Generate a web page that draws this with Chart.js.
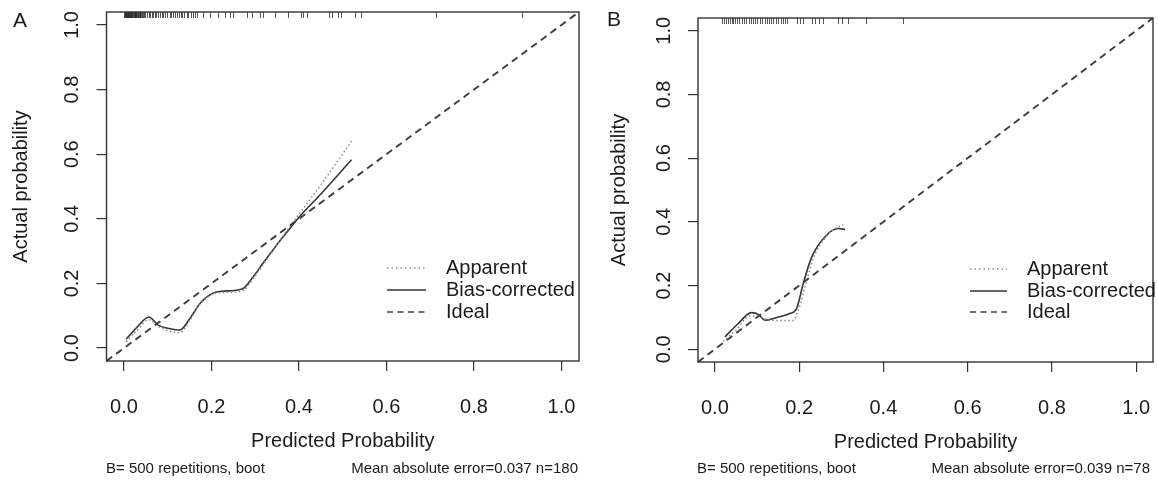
<!DOCTYPE html>
<html>
<head>
<meta charset="utf-8">
<script src="https://cdn.jsdelivr.net/npm/chart.js@4.4.1/dist/chart.umd.min.js"></script>
<style>
  html, body { margin: 0; padding: 0; background: #fff; }
  #wrap { position: relative; width: 1158px; height: 480px; overflow: hidden; }
  canvas { position: absolute; top: 0; }
</style>
</head>
<body>
<div id="wrap">
  <canvas id="cA" width="585" height="480" style="left:0px"></canvas>
  <canvas id="cB" width="573" height="480" style="left:585px"></canvas>
</div>
<script>
// ---------------- DATA ----------------
const tickValues = [0.0, 0.2, 0.4, 0.6, 0.8, 1.0];
const legendLabels = ["Apparent", "Bias-corrected", "Ideal"];
const axisMin = -0.04, axisMax = 1.04;

// Panel A
const appA_x = [0.005, 0.03, 0.057, 0.08, 0.105, 0.128, 0.15, 0.17, 0.2, 0.225, 0.27, 0.295, 0.32, 0.35, 0.38, 0.45, 0.52];
const appA_y = [0.02, 0.055, 0.088, 0.066, 0.052, 0.048, 0.085, 0.13, 0.165, 0.172, 0.176, 0.215, 0.262, 0.32, 0.378, 0.505, 0.64];
const bcA_x  = [0.005, 0.03, 0.057, 0.078, 0.105, 0.128, 0.15, 0.174, 0.203, 0.224, 0.27, 0.295, 0.318, 0.34, 0.37, 0.40, 0.45, 0.52];
const bcA_y  = [0.028, 0.065, 0.096, 0.071, 0.06, 0.056, 0.09, 0.139, 0.17, 0.176, 0.183, 0.22, 0.263, 0.303, 0.355, 0.405, 0.477, 0.583];
const rugA = [0.001, 0.002, 0.003, 0.004, 0.005, 0.006, 0.007, 0.008, 0.009, 0.011, 0.012, 0.013, 0.014, 0.016, 0.017, 0.018, 0.019, 0.021, 0.022, 0.023, 0.024, 0.026, 0.027, 0.028, 0.029, 0.031, 0.033, 0.034, 0.036, 0.037, 0.039, 0.041, 0.043, 0.046, 0.049, 0.053, 0.056, 0.06, 0.063, 0.067, 0.071, 0.074, 0.078, 0.083, 0.087, 0.09, 0.094, 0.099, 0.104, 0.108, 0.112, 0.117, 0.121, 0.126, 0.13, 0.133, 0.138, 0.143, 0.147, 0.152, 0.157, 0.162, 0.167, 0.18, 0.197, 0.215, 0.231, 0.242, 0.249, 0.281, 0.293, 0.311, 0.318, 0.345, 0.375, 0.405, 0.41, 0.418, 0.469, 0.475, 0.489, 0.496, 0.528, 0.542, 0.713, 0.91];
const footA = ["B= 500 repetitions, boot", "Mean absolute error=0.037 n=180"];

// Panel B
const appB_x = [0.02, 0.05, 0.085, 0.12, 0.15, 0.185, 0.2, 0.215, 0.235, 0.265, 0.29, 0.305];
const appB_y = [0.025, 0.06, 0.105, 0.095, 0.09, 0.09, 0.13, 0.2, 0.29, 0.355, 0.383, 0.39];
const bcB_x  = [0.024, 0.055, 0.087, 0.105, 0.119, 0.147, 0.178, 0.194, 0.21, 0.23, 0.265, 0.293, 0.309];
const bcB_y  = [0.039, 0.08, 0.115, 0.108, 0.091, 0.1, 0.112, 0.128, 0.207, 0.29, 0.358, 0.379, 0.376];
const rugB = [0.018, 0.022, 0.027, 0.031, 0.036, 0.04, 0.044, 0.049, 0.053, 0.057, 0.065, 0.07, 0.075, 0.081, 0.086, 0.091, 0.096, 0.101, 0.106, 0.113, 0.118, 0.123, 0.129, 0.134, 0.139, 0.145, 0.15, 0.156, 0.161, 0.166, 0.172, 0.195, 0.202, 0.209, 0.23, 0.238, 0.247, 0.257, 0.292, 0.302, 0.316, 0.359, 0.447];
const footB = ["B= 500 repetitions, boot", "Mean absolute error=0.039 n=78"];

// ---------------- STYLE / LAYOUT ----------------
const FONT = '"Liberation Sans", Arial, Helvetica, sans-serif';
const TXT = '#1b1b1b';
const AX = '#333';

function pts(xs, ys) { return xs.map((v, i) => ({ x: v, y: ys[i] })); }

const panelPlugin = {
  id: 'panel',
  afterDraw(chart) {
    const o = chart.options.plugins.panel;
    const ctx = chart.ctx, ca = chart.chartArea;
    const xs = chart.scales.x, ys = chart.scales.y;
    ctx.save();
    // rug
    ctx.strokeStyle = '#2a2a2a';
    ctx.lineWidth = 0.8;
    o.rug.forEach(v => {
      const px = Math.round(xs.getPixelForValue(v)) + 0.5;
      ctx.beginPath();
      ctx.moveTo(px, ca.top);
      ctx.lineTo(px, ca.top + 6);
      ctx.stroke();
    });
    // box
    ctx.strokeStyle = AX;
    ctx.lineWidth = 1.4;
    ctx.strokeRect(ca.left, ca.top, ca.right - ca.left, ca.bottom - ca.top);
    // tick labels
    ctx.fillStyle = TXT;
    ctx.font = '20px ' + FONT;
    ctx.textAlign = 'center';
    ctx.textBaseline = 'middle';
    xs.ticks.forEach(t => {
      ctx.fillText(t.value.toFixed(1), xs.getPixelForValue(t.value), o.xTickY);
    });
    ys.ticks.forEach(t => {
      ctx.save();
      ctx.translate(o.yTickX, ys.getPixelForValue(t.value));
      ctx.rotate(-Math.PI / 2);
      ctx.fillText(t.value.toFixed(1), 0, 0);
      ctx.restore();
    });
    // axis titles
    ctx.fillText('Predicted Probability', (ca.left + ca.right) / 2, o.xTitleY);
    ctx.save();
    ctx.translate(o.yTitleX, (ca.top + ca.bottom) / 2);
    ctx.rotate(-Math.PI / 2);
    ctx.fillText('Actual probability', 0, 0);
    ctx.restore();
    // panel letter
    ctx.textAlign = 'left';
    ctx.font = '21px ' + FONT;
    ctx.fillText(o.letter, o.letterX, o.letterY);
    // footer
    ctx.font = '15px ' + FONT;
    ctx.fillText(o.foot[0], o.footLeftX, o.footY);
    ctx.textAlign = 'right';
    ctx.fillText(o.foot[1], o.footRightX, o.footY);
    // legend
    ctx.font = '20px ' + FONT;
    ctx.textAlign = 'left';
    const styles = [
      { c: '#8a8a8a', w: 1.4, d: [1.5, 3] },
      { c: '#333', w: 1.6, d: [] },
      { c: '#444', w: 1.5, d: [6, 4.5] }
    ];
    legendLabels.forEach((lab, i) => {
      const yy = o.legRows[i];
      ctx.strokeStyle = styles[i].c;
      ctx.lineWidth = styles[i].w;
      ctx.setLineDash(styles[i].d);
      ctx.beginPath();
      ctx.moveTo(o.legX0, yy);
      ctx.lineTo(o.legX1, yy);
      ctx.stroke();
      ctx.setLineDash([]);
      ctx.fillStyle = TXT;
      ctx.fillText(lab, o.legTextX, yy);
    });
    ctx.restore();
  }
};

function makeChart(id, app, bc, layout) {
  const ideal = [{ x: axisMin, y: axisMin }, { x: axisMax, y: axisMax }];
  const axisCommon = (isX) => ({
    type: 'linear',
    min: axisMin,
    max: axisMax,
    afterBuildTicks(s) { s.ticks = tickValues.map(v => ({ value: v })); },
    afterFit(s) {
      if (isX) s.height = 480 - layout.bottom;
      else s.width = layout.left;
    },
    ticks: { display: false },
    grid: { display: true, drawOnChartArea: false, drawTicks: true, tickLength: 10, color: AX, lineWidth: 1.2 },
    border: { display: false }
  });
  return new Chart(document.getElementById(id), {
    type: 'scatter',
    data: {
      datasets: [
        { label: 'Ideal', data: ideal, showLine: true, pointRadius: 0, borderColor: '#3c3c3c', borderWidth: 1.9, borderDash: [7, 5], clip: false },
        { label: 'Apparent', data: app, showLine: true, pointRadius: 0, borderColor: '#8a8a8a', borderWidth: 1.5, borderDash: [1.5, 2.5], cubicInterpolationMode: 'monotone' },
        { label: 'Bias-corrected', data: bc, showLine: true, pointRadius: 0, borderColor: '#363636', borderWidth: 1.6, cubicInterpolationMode: 'monotone' }
      ]
    },
    options: {
      responsive: false,
      animation: false,
      layout: { padding: { top: layout.top, right: layout.right, left: 0, bottom: 0 } },
      scales: { x: axisCommon(true), y: axisCommon(false) },
      plugins: {
        legend: { display: false },
        tooltip: { enabled: false },
        panel: layout.panel
      }
    },
    plugins: [panelPlugin]
  });
}

makeChart('cA', pts(appA_x, appA_y), pts(bcA_x, bcA_y), {
  left: 106.5, top: 12, right: 6, bottom: 361,
  panel: {
    rug: rugA, foot: footA, letter: 'A',
    letterX: 13, letterY: 21,
    yTickX: 72.5, yTitleX: 21,
    xTickY: 407, xTitleY: 441, footY: 469,
    footLeftX: 106, footRightX: 578,
    legX0: 387, legX1: 426, legTextX: 446, legRows: [268, 290, 312]
  }
});

makeChart('cB', pts(appB_x, appB_y), pts(bcB_x, bcB_y), {
  left: 113, top: 18, right: 5, bottom: 362,
  panel: {
    rug: rugB, foot: footB, letter: 'B',
    letterX: 22, letterY: 20,
    yTickX: 79.5, yTitleX: 34,
    xTickY: 408, xTitleY: 442, footY: 469,
    footLeftX: 112, footRightX: 565,
    legX0: 385, legX1: 422, legTextX: 442, legRows: [269, 291, 312]
  }
});
</script>
</body>
</html>
